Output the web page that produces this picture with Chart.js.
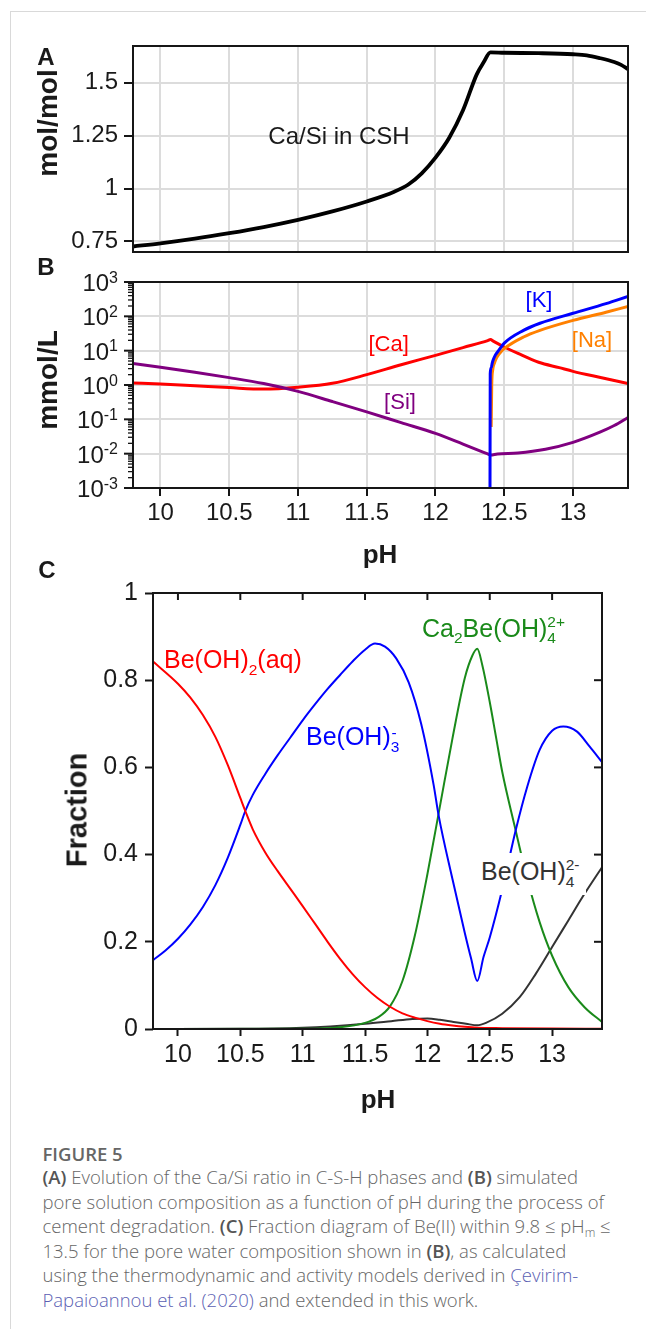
<!DOCTYPE html>
<html>
<head>
<meta charset="utf-8">
<script src="https://cdn.jsdelivr.net/npm/chart.js@4.4.1/dist/chart.umd.min.js"></script>
<style>
html,body{margin:0;padding:0;background:#fff;}
body{width:646px;height:1329px;position:relative;overflow:hidden;font-family:'Liberation Sans',Arial,sans-serif;}
.frame{position:absolute;left:10px;top:11px;width:700px;height:1400px;border-left:1px solid #d9d9d9;border-top:1px solid #d9d9d9;}
canvas{position:absolute;left:0;}
.t{position:absolute;line-height:1;white-space:nowrap;font-family:'Liberation Sans',Arial,sans-serif;color:#1a1a1a;}
.c{transform:translate(-50%,-50%);}
.r{transform:translate(-50%,-50%) rotate(-90deg);}
.b{font-weight:bold;}
.st{display:inline-block;position:relative;}
.spI{font-size:0.62em;position:relative;top:-0.64em;}
.sbI{font-size:0.62em;position:relative;top:0.45em;}
.sbA{font-size:0.62em;position:absolute;left:0;top:0.96em;line-height:1;}
.spA{font-size:0.62em;position:absolute;left:0.05em;top:0.05em;line-height:1;}
.cap{position:absolute;left:42.5px;font-family:'Open Sans',sans-serif;font-size:18.5px;line-height:25px;color:#666;font-weight:300;white-space:nowrap;}
.cap b{font-weight:600;color:#555;}
.cap a{color:#5b5fb3;text-decoration:none;}
.cap sub{font-size:0.65em;vertical-align:baseline;position:relative;top:0.3em;}
</style>
</head>
<body>
<div class="frame"></div>
<canvas id="cA" width="646" height="262" style="top:0px"></canvas>
<canvas id="cB" width="646" height="318" style="top:262px"></canvas>
<canvas id="cC" width="646" height="540" style="top:580px"></canvas>

<!-- panel letters and axis titles -->
<div class="t c b" style="left:46px;top:56.5px;font-size:24px;">A</div>
<div class="t c b" style="left:46px;top:266.5px;font-size:24px;">B</div>
<div class="t c b" style="left:47px;top:570px;font-size:24px;">C</div>
<div class="t r b" style="left:47.5px;top:123px;font-size:28px;">mol/mol</div>
<div class="t r b" style="left:48px;top:380px;font-size:28px;">mmol/L</div>
<div class="t r b" style="left:77px;top:810px;font-size:29px;">Fraction</div>
<div class="t c b" style="left:380px;top:554px;font-size:26px;">pH</div>
<div class="t c b" style="left:378px;top:1099px;font-size:26px;">pH</div>

<!-- annotations -->
<div class="t c" style="left:339px;top:136px;font-size:24px;">Ca/Si in CSH</div>
<div class="t c" style="left:388.6px;top:344px;font-size:22px;color:#ff0000;">[Ca]</div>
<div class="t c" style="left:400px;top:402px;font-size:22px;color:#800080;">[Si]</div>
<div class="t c" style="left:539px;top:300px;font-size:22px;color:#0000ff;">[K]</div>
<div class="t c" style="left:592px;top:340px;font-size:22px;color:#ff8000;">[Na]</div>

<div class="t" style="left:164px;top:647.1px;font-size:25px;color:#ff0000;">Be(OH)<span class="sbI">2</span>(aq)</div>
<div class="t" style="left:306px;top:723.8px;font-size:25px;color:#0000ff;">Be(OH)<span class="st"><span class="sbI">3</span><span class="spA">-</span></span></div>
<div class="t" style="left:422px;top:615.5px;font-size:25px;color:#1a8a1a;">Ca<span class="sbI">2</span>Be(OH)<span class="st"><span class="spI">2+</span><span class="sbA">4</span></span></div>
<div style="position:absolute;left:479px;top:853px;width:107px;height:42px;background:#fff;"></div>
<div class="t" style="left:481px;top:858.8px;font-size:25px;color:#333;">Be(OH)<span class="st"><span class="spI">2-</span><span class="sbA">4</span></span></div>

<!-- caption -->
<div class="cap" style="top:1140.5px;font-weight:600;">FIGURE 5</div>
<div class="cap" style="top:1164px;"><b>(A)</b> Evolution of the Ca/Si ratio in C-S-H phases and <b>(B)</b> simulated</div>
<div class="cap" style="top:1188.6px;">pore solution composition as a function of pH during the process of</div>
<div class="cap" style="top:1213.2px;">cement degradation. <b>(C)</b> Fraction diagram of Be(II) within 9.8 ≤ pH<sub>m</sub> ≤</div>
<div class="cap" style="top:1237.8px;">13.5 for the pore water composition shown in <b>(B)</b>, as calculated</div>
<div class="cap" style="top:1262.4px;">using the thermodynamic and activity models derived in <a>Çevirim-</a></div>
<div class="cap" style="top:1287px;"><a>Papaioannou et al. (2020)</a> and extended in this work.</div>

<script>
// ---------- shared x ticks ----------
const pHTicks = [10, 10.5, 11, 11.5, 12, 12.5, 13];
const pHTickLabels = ['10', '10.5', '11', '11.5', '12', '12.5', '13'];

// ---------- panel A: Ca/Si in CSH ----------
const caSiPH    = [9.8, 10.0, 10.25, 10.5, 10.75, 11.0, 11.25, 11.5, 11.7, 11.8, 11.9, 12.0, 12.1, 12.2, 12.3, 12.35, 12.4, 12.5, 12.75, 13.0, 13.1, 13.2, 13.3, 13.35, 13.4];
const caSiRatio = [0.726, 0.741, 0.763, 0.789, 0.818, 0.852, 0.892, 0.939, 0.985, 1.018, 1.072, 1.146, 1.24, 1.37, 1.54, 1.597, 1.644, 1.642, 1.640, 1.635, 1.630, 1.616, 1.598, 1.585, 1.565];
const aTicks = [0.75, 1, 1.25, 1.5];
const aTickLabels = ['0.75', '1', '1.25', '1.5'];

// ---------- panel B: pore solution (mmol/L) ----------
const caPH = [9.8, 10.0, 10.25, 10.5, 10.75, 11.0, 11.25, 11.5, 11.75, 12.0, 12.2, 12.38, 12.4, 12.42, 12.5, 12.6, 12.75, 12.9, 13.0, 13.2, 13.4];
const caConc = [1.15, 1.07, 0.95, 0.84, 0.76, 0.86, 1.12, 2.0, 3.9, 7.3, 12.3, 19.6, 21, 19.0, 12.8, 8.3, 4.6, 3.2, 2.5, 1.65, 1.1];
const siPH = [9.8, 10.0, 10.25, 10.5, 10.75, 11.0, 11.25, 11.5, 11.75, 12.0, 12.2, 12.38, 12.4, 12.45, 12.6, 12.8, 13.0, 13.2, 13.3, 13.4];
const siConc = [4.2, 3.3, 2.35, 1.64, 1.1, 0.65, 0.33, 0.165, 0.08, 0.039, 0.019, 0.0098, 0.0091, 0.0098, 0.0105, 0.0135, 0.0214, 0.043, 0.066, 0.113];
const kPH = [12.396, 12.398, 12.405, 12.413, 12.42, 12.435, 12.46, 12.5, 12.64, 12.76, 13.0, 13.24, 13.4];
const kConc = [0.0001, 2.1, 3.2, 4.4, 5.4, 7.4, 10.2, 16.6, 39, 63, 123, 234, 380];
const naPH = [12.405, 12.409, 12.416, 12.43, 12.445, 12.47, 12.5, 12.64, 12.76, 13.0, 13.24, 13.4];
const naConc = [0.06, 1.0, 2.7, 4.5, 6.3, 8.7, 11.5, 25, 39, 76, 132, 195];
const bDecades = [-3, -2, -1, 0, 1, 2, 3];

// ---------- panel C: Be(II) fractions ----------
const beOH2PH = [9.8, 10.0, 10.1, 10.2, 10.3, 10.4, 10.5, 10.54, 10.6, 10.7, 10.8, 10.9, 11.0, 11.1, 11.2, 11.3, 11.4, 11.5, 11.6, 11.7, 11.8, 11.9, 12.0, 12.1, 12.2, 12.3, 12.4, 12.6, 13.0, 13.4];
const beOH2Frac = [0.843, 0.792, 0.76, 0.72, 0.67, 0.605, 0.53, 0.50, 0.458, 0.405, 0.362, 0.322, 0.282, 0.241, 0.2, 0.161, 0.126, 0.096, 0.071, 0.051, 0.036, 0.026, 0.018, 0.012, 0.008, 0.005, 0.003, 0.002, 0.001, 0.0005];
const beOH3PH = [9.8, 9.9, 10.0, 10.1, 10.2, 10.3, 10.4, 10.5, 10.54, 10.6, 10.7, 10.8, 10.9, 11.0, 11.1, 11.2, 11.3, 11.4, 11.5, 11.58, 11.66, 11.75, 11.85, 11.95, 12.05, 12.09, 12.2, 12.3, 12.35, 12.4, 12.45, 12.5, 12.6, 12.71, 12.8, 12.9, 13.0, 13.09, 13.2, 13.3, 13.4];
const beOH3Frac = [0.158, 0.18, 0.207, 0.24, 0.28, 0.33, 0.393, 0.468, 0.50, 0.537, 0.585, 0.628, 0.668, 0.708, 0.745, 0.78, 0.812, 0.843, 0.87, 0.884, 0.877, 0.85, 0.795, 0.70, 0.56, 0.49, 0.345, 0.22, 0.162, 0.11, 0.165, 0.21, 0.32, 0.458, 0.555, 0.64, 0.684, 0.694, 0.682, 0.648, 0.612];
const caBePH = [9.8, 11.0, 11.3, 11.5, 11.6, 11.7, 11.8, 11.9, 12.0, 12.1, 12.2, 12.3, 12.36, 12.4, 12.44, 12.5, 12.55, 12.6, 12.7, 12.8, 12.9, 13.0, 13.13, 13.26, 13.4];
const caBeFrac = [0, 0.0005, 0.004, 0.014, 0.026, 0.052, 0.11, 0.215, 0.355, 0.51, 0.665, 0.805, 0.856, 0.872, 0.835, 0.75, 0.67, 0.59, 0.465, 0.345, 0.245, 0.168, 0.096, 0.05, 0.016];
const beOH4PH = [9.8, 10.5, 11.0, 11.22, 11.5, 11.71, 11.88, 12.0, 12.1, 12.21, 12.31, 12.4, 12.47, 12.6, 12.74, 12.87, 13.0, 13.13, 13.26, 13.4];
const beOH4Frac = [0, 0.0005, 0.003, 0.006, 0.012, 0.018, 0.023, 0.024, 0.021, 0.016, 0.012, 0.0085, 0.014, 0.035, 0.073, 0.127, 0.188, 0.249, 0.31, 0.371];
const cTicks = [0, 0.2, 0.4, 0.6, 0.8, 1];
const cTickLabels = ['0', '0.2', '0.4', '0.6', '0.8', '1'];

// ---------- helpers ----------
const FONT = "'Liberation Sans', Arial, sans-serif";
Chart.defaults.font.family = FONT;
Chart.defaults.color = '#1a1a1a';
const pts = (xs, ys) => xs.map((x, i) => ({ x: x, y: ys[i] }));
const line = (xs, ys, color, w) => ({ data: pts(xs, ys), borderColor: color, borderWidth: w, pointRadius: 0, fill: false, cubicInterpolationMode: 'monotone' });
const setTicks = vals => s => { s.ticks = vals.map(v => ({ value: v })); };
const fitY = w => s => { s.width = w; s.paddingTop = 0; s.paddingBottom = 0; };
const fitX = h => s => { s.height = h; s.paddingLeft = 0; s.paddingRight = 0; };

const boxPlugin = {
  id: 'box',
  afterDatasetsDraw(chart) {
    const { ctx, chartArea: a } = chart;
    ctx.save();
    ctx.strokeStyle = '#161616';
    ctx.lineWidth = 2;
    ctx.strokeRect(a.left, a.top, a.right - a.left, a.bottom - a.top);
    ctx.restore();
  }
};

const logTicksPlugin = {
  id: 'logticks',
  afterDatasetsDraw(chart) {
    const ys = chart.scales.y, ctx = chart.ctx, L = chart.chartArea.left;
    ctx.save();
    ctx.strokeStyle = '#161616';
    ctx.fillStyle = '#1a1a1a';
    bDecades.forEach(e => {
      const y = ys.getPixelForValue(Math.pow(10, e));
      ctx.lineWidth = 2;
      ctx.beginPath(); ctx.moveTo(L - 9, y); ctx.lineTo(L, y); ctx.stroke();
      if (e < 3) {
        for (let k = 2; k < 10; k++) {
          const ym = ys.getPixelForValue(k * Math.pow(10, e));
          ctx.lineWidth = 1.3;
          ctx.beginPath(); ctx.moveTo(L - 5, ym); ctx.lineTo(L, ym); ctx.stroke();
        }
      }
      const sup = String(e);
      ctx.font = '16px ' + FONT;
      const ws = ctx.measureText(sup).width;
      ctx.font = '24px ' + FONT;
      const wb = ctx.measureText('10').width;
      const right = L - 15;
      ctx.textBaseline = 'alphabetic';
      ctx.textAlign = 'left';
      ctx.fillText('10', right - ws - wb, y + 9);
      ctx.font = '16px ' + FONT;
      ctx.fillText(sup, right - ws, y + 0.5);
    });
    ctx.restore();
  }
};

const innerTicksPlugin = {
  id: 'innerticks',
  afterDatasetsDraw(chart) {
    const { ctx, chartArea: a, scales } = chart;
    ctx.save();
    ctx.strokeStyle = '#161616';
    ctx.lineWidth = 2;
    pHTicks.forEach(v => {
      const px = scales.x.getPixelForValue(v);
      ctx.beginPath(); ctx.moveTo(px, a.top); ctx.lineTo(px, a.top + 7); ctx.stroke();
    });
    cTicks.forEach(v => {
      const py = scales.y.getPixelForValue(v);
      ctx.beginPath(); ctx.moveTo(a.right - 8, py); ctx.lineTo(a.right, py); ctx.stroke();
    });
    ctx.restore();
  }
};

const baseOpts = (padding) => ({
  responsive: false, animation: false, devicePixelRatio: 1, events: [],
  layout: { padding: padding },
  plugins: { legend: { display: false }, tooltip: { enabled: false } }
});

// ---------- chart A ----------
new Chart(document.getElementById('cA'), {
  type: 'line',
  data: { datasets: [line(caSiPH, caSiRatio, '#000000', 3.8)] },
  options: Object.assign(baseOpts({ top: 46, right: 18, bottom: 0, left: 0 }), {
    scales: {
      x: {
        type: 'linear', min: 9.8, max: 13.4,
        afterBuildTicks: setTicks(pHTicks),
        afterFit: fitX(10),
        ticks: { display: false },
        grid: { color: '#dcdcdc', lineWidth: 2, drawTicks: false },
        border: { display: false }
      },
      y: {
        type: 'linear', min: 0.70, max: 1.674,
        afterBuildTicks: setTicks(aTicks),
        afterFit: fitY(133),
        ticks: { callback: (v, i) => aTickLabels[i], font: { size: 24, lineHeight: 1 }, color: '#1a1a1a', padding: 6 },
        grid: { color: '#dcdcdc', lineWidth: 2, tickColor: '#161616', tickWidth: 2, tickLength: 9 },
        border: { display: false }
      }
    }
  }),
  plugins: [boxPlugin]
});

// ---------- chart B ----------
new Chart(document.getElementById('cB'), {
  type: 'line',
  data: {
    datasets: [
      line(kPH, kConc, '#0000ff', 3),
      line(naPH, naConc, '#ff8000', 3),
      line(siPH, siConc, '#800080', 3),
      line(caPH, caConc, '#ff0000', 3)
    ]
  },
  options: Object.assign(baseOpts({ top: 20, right: 18, bottom: 0, left: 0 }), {
    scales: {
      x: {
        type: 'linear', min: 9.8, max: 13.4,
        afterBuildTicks: setTicks(pHTicks),
        afterFit: fitX(92),
        ticks: { callback: (v, i) => pHTickLabels[i], font: { size: 24, lineHeight: 1 }, color: '#1a1a1a', padding: 5, maxRotation: 0, autoSkip: false },
        grid: { color: '#dcdcdc', lineWidth: 2, tickColor: '#161616', tickWidth: 2, tickLength: 8 },
        border: { display: false }
      },
      y: {
        type: 'logarithmic', min: 0.001, max: 1000,
        afterBuildTicks: s => { s.ticks = bDecades.map(e => ({ value: Math.pow(10, e), major: true })); },
        afterFit: fitY(133),
        ticks: { display: false },
        grid: { color: '#dcdcdc', lineWidth: 2, drawTicks: false },
        border: { display: false }
      }
    }
  }),
  plugins: [boxPlugin, logTicksPlugin]
});

// ---------- chart C ----------
new Chart(document.getElementById('cC'), {
  type: 'line',
  data: {
    datasets: [
      line(beOH2PH, beOH2Frac, '#ff0000', 2),
      line(beOH3PH, beOH3Frac, '#0000ff', 2),
      line(caBePH, caBeFrac, '#1a8a1a', 2),
      line(beOH4PH, beOH4Frac, '#333333', 2)
    ]
  },
  options: Object.assign(baseOpts({ top: 13, right: 44, bottom: 0, left: 0 }), {
    scales: {
      x: {
        type: 'linear', min: 9.8, max: 13.4,
        afterBuildTicks: setTicks(pHTicks),
        afterFit: fitX(91),
        ticks: { callback: (v, i) => pHTickLabels[i], font: { size: 25, lineHeight: 1 }, color: '#1a1a1a', padding: 7, maxRotation: 0, autoSkip: false },
        grid: { drawOnChartArea: false, tickColor: '#161616', tickWidth: 2, tickLength: 7 },
        border: { display: false }
      },
      y: {
        type: 'linear', min: 0, max: 1,
        afterBuildTicks: setTicks(cTicks),
        afterFit: fitY(153),
        ticks: { callback: (v, i) => cTickLabels[i], font: { size: 25, lineHeight: 1 }, color: '#1a1a1a', padding: 7 },
        grid: { drawOnChartArea: false, tickColor: '#161616', tickWidth: 2, tickLength: 8 },
        border: { display: false }
      }
    }
  }),
  plugins: [boxPlugin, innerTicksPlugin]
});
</script>
</body>
</html>
